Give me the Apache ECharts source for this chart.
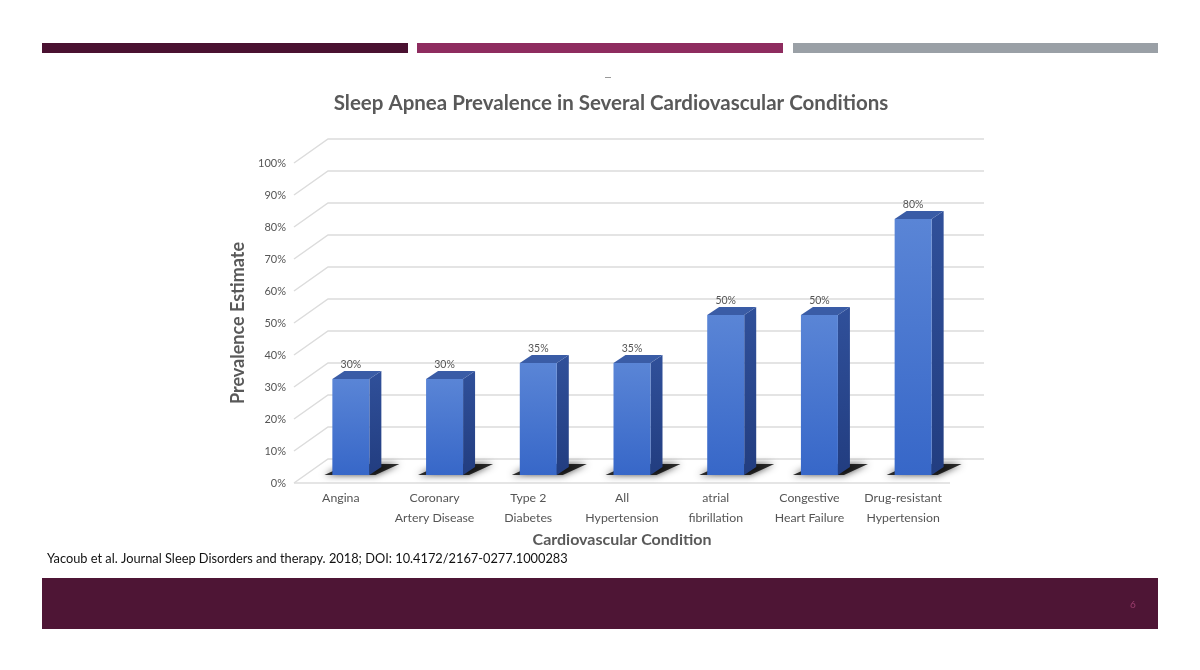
<!DOCTYPE html>
<html>
<head>
<meta charset="utf-8">
<script src="https://cdn.jsdelivr.net/npm/echarts@6/dist/echarts.min.js"></script>
<style>
  html, body { margin: 0; padding: 0; background: #fff; }
  #chart { width: 1200px; height: 670px; }
</style>
</head>
<body>
<div id="chart"></div>
<script>
  const conditions = [
    'Angina',
    'Coronary\nArtery Disease',
    'Type 2\nDiabetes',
    'All\nHypertension',
    'atrial\nfibrillation',
    'Congestive\nHeart Failure',
    'Drug-resistant\nHypertension',
  ]
  const prevalence = [30, 30, 35, 35, 50, 50, 80]
  const yTicks = [0, 10, 20, 30, 40, 50, 60, 70, 80, 90, 100]

  // perspective offsets (px): back wall, bar front face, bar depth
  const BACK = [34, -24]
  const FRONT = [10, -8]
  const DEPTH = [12, -8]
  const BAR_W = 37

  const font = 'Lato, "Open Sans", sans-serif'

  function renderGrid(params, api) {
    const cs = params.coordSys
    const v = api.value(0)
    const y = api.coord([0, v])[1]
    const x = cs.x
    const children = [
      {
        type: 'polyline',
        shape: { points: [[x, y], [x + BACK[0], y + BACK[1]], [x + cs.width + BACK[0], y + BACK[1]]] },
        style: { stroke: '#dcdcdc', lineWidth: 1.5, fill: null },
      },
    ]
    if (v === 0) {
      children.push({
        type: 'line',
        shape: { x1: x, y1: y, x2: x + cs.width, y2: y },
        style: { stroke: '#dcdcdc', lineWidth: 1.5 },
      })
    }
    return { type: 'group', children }
  }

  function renderBar(params, api) {
    const idx = api.value(0)
    const val = api.value(1)
    const top = api.coord([idx, val])
    const base = api.coord([idx, 0])
    const cx = top[0] + FRONT[0]
    const x0 = cx - BAR_W / 2
    const x1 = cx + BAR_W / 2
    const yt = top[1] + FRONT[1]
    const yb = base[1] + FRONT[1]
    const dx = DEPTH[0]
    const dy = DEPTH[1]
    return {
      type: 'group',
      children: [
        {
          type: 'polygon',
          shape: { points: [[x0 - 8, yb], [x1 + 6, yb], [x1 + dx + 18, yb + dy - 3], [x0 + dx + 4, yb + dy - 3]] },
          style: { fill: 'rgba(0,0,0,0.8)', shadowBlur: 7, shadowColor: 'rgba(0,0,0,0.9)' },
        },
        {
          type: 'polygon',
          shape: { points: [[x1, yt], [x1 + dx, yt + dy], [x1 + dx, yb + dy], [x1, yb]] },
          style: {
            fill: new echarts.graphic.LinearGradient(0, 0, 0, 1, [
              { offset: 0, color: '#30509a' },
              { offset: 1, color: '#223d80' },
            ]),
          },
        },
        {
          type: 'polygon',
          shape: { points: [[x0, yt], [x0 + dx, yt + dy], [x1 + dx, yt + dy], [x1, yt]] },
          style: { fill: '#3a5ca6' },
        },
        {
          type: 'rect',
          shape: { x: x0, y: yt, width: BAR_W, height: yb - yt },
          style: {
            fill: new echarts.graphic.LinearGradient(0, 0, 0, 1, [
              { offset: 0, color: '#5a85d6' },
              { offset: 1, color: '#3767c8' },
            ]),
          },
        },
        {
          type: 'text',
          style: {
            x: cx,
            y: yt - 14,
            text: val + '%',
            fill: '#555555',
            font: '10.5px ' + font,
            align: 'center',
            verticalAlign: 'middle',
          },
        },
      ],
    }
  }

  const chart = echarts.init(document.getElementById('chart'))

  chart.setOption({
    animation: false,
    title: {
      text: 'Sleep Apnea Prevalence in Several Cardiovascular Conditions',
      left: 606,
      textAlign: 'center',
      top: 88,
      textStyle: { fontFamily: font, fontSize: 20.5, fontWeight: 'bold', color: '#595959' },
    },
    grid: { left: 294, right: 250, top: 163, bottom: 187 },
    xAxis: {
      type: 'category',
      data: conditions,
      axisLine: { show: false },
      axisTick: { show: false },
      axisLabel: { margin: 5, color: '#555555', fontFamily: font, fontSize: 12.3, lineHeight: 20, interval: 0 },
      name: 'Cardiovascular Condition',
      nameLocation: 'middle',
      nameGap: 49,
      nameTextStyle: { fontFamily: font, fontSize: 16, fontWeight: 'bold', color: '#595959' },
    },
    yAxis: {
      type: 'value',
      min: 0,
      max: 100,
      interval: 10,
      axisLine: { show: false },
      axisTick: { show: false },
      splitLine: { show: false },
      axisLabel: { formatter: '{value}%', margin: 8, color: '#555555', fontFamily: font, fontSize: 11 },
      name: 'Prevalence Estimate',
      nameLocation: 'middle',
      nameGap: 45,
      nameTextStyle: { fontFamily: font, fontSize: 18, fontWeight: 'bold', color: '#595959' },
    },
    series: [
      { type: 'custom', renderItem: renderGrid, data: yTicks.map((t) => [t]), z: 1, silent: true },
      { type: 'custom', renderItem: renderBar, data: prevalence.map((v, i) => [i, v]), z: 2 },
    ],
    graphic: [
      { type: 'rect', shape: { x: 42, y: 43, width: 366, height: 10 }, style: { fill: '#4a1131' } },
      { type: 'rect', shape: { x: 417, y: 43, width: 366, height: 10 }, style: { fill: '#8e2c5f' } },
      { type: 'rect', shape: { x: 793, y: 43, width: 365, height: 10 }, style: { fill: '#9aa0a6' } },
      { type: 'rect', shape: { x: 605, y: 77, width: 6, height: 1 }, style: { fill: '#999' } },
      {
        type: 'text',
        left: 47,
        top: 552,
        style: {
          text: 'Yacoub et al. Journal Sleep Disorders and therapy. 2018; DOI: 10.4172/2167-0277.1000283',
          fill: '#111',
          font: '12.8px ' + font,
        },
      },
      { type: 'rect', shape: { x: 42, y: 578, width: 1116, height: 51 }, style: { fill: '#4e1535' } },
      {
        type: 'text',
        left: 1130,
        top: 600,
        style: { text: '6', fill: '#9b3d6d', font: '10px ' + font },
      },
    ],
  })
</script>
</body>
</html>
